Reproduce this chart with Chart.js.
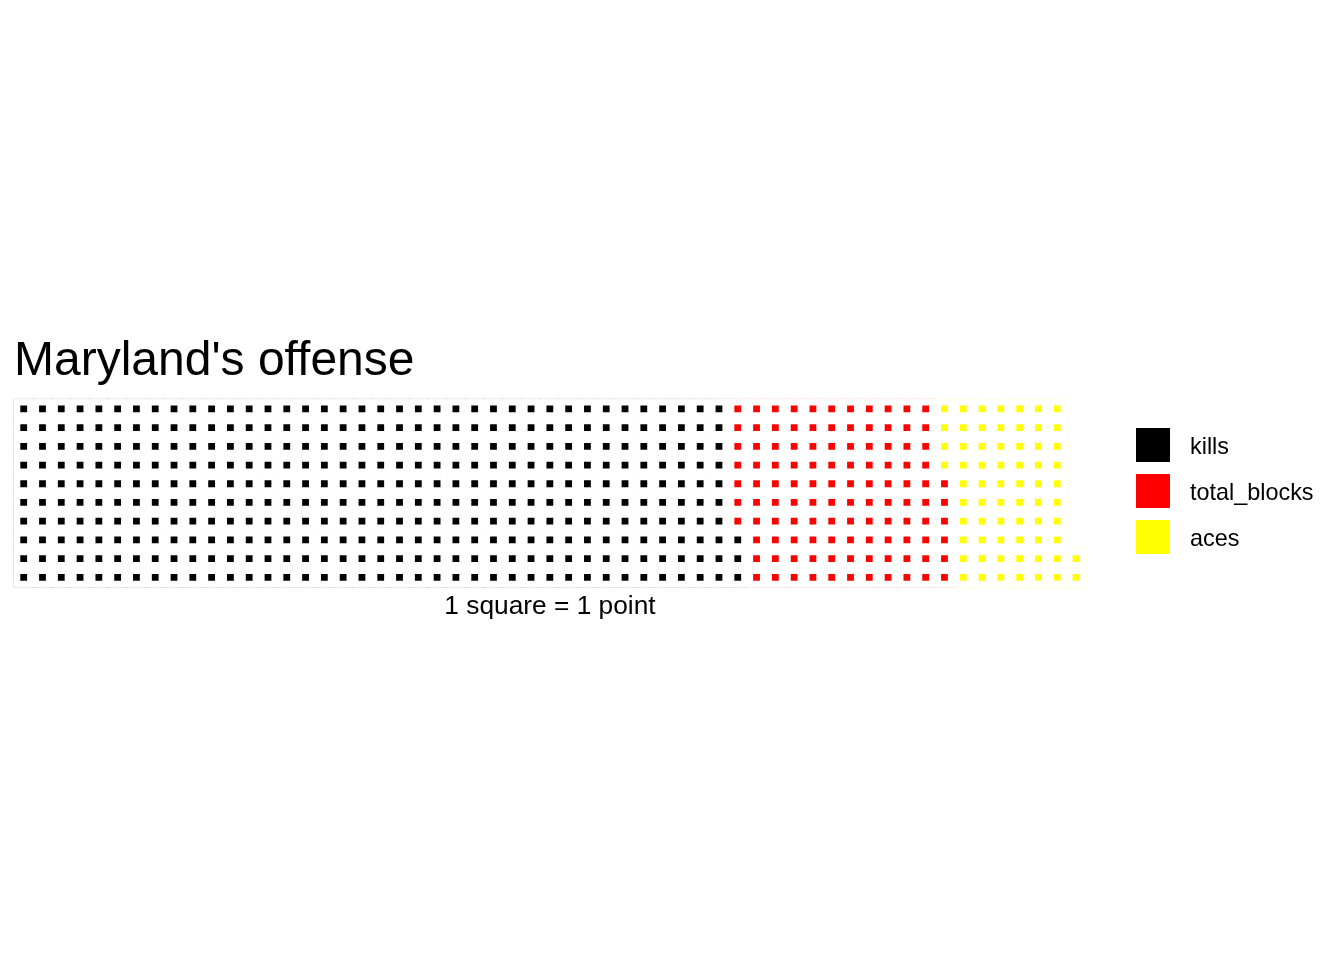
<!DOCTYPE html>
<html>
<head>
<meta charset="utf-8">
<script src="https://cdn.jsdelivr.net/npm/chart.js@4/dist/chart.umd.min.js"></script>
<style>
  html, body { margin: 0; padding: 0; background: #ffffff; }
  body { width: 1344px; height: 960px; position: relative; overflow: hidden;
         font-family: "Liberation Sans", Arial, Helvetica, sans-serif; color: #000; }
  #wrap { position: absolute; left: 0; top: 0; width: 1344px; height: 960px; }
  .txt { position: absolute; line-height: 1; white-space: nowrap; }
  #title { left: 14px; top: 335px; font-size: 48px; }
  #caption { left: 0; width: 1100px; text-align: center; top: 592px; font-size: 26.3px; }
  .key { position: absolute; left: 1136px; width: 34px; height: 34px; }
  .lab { position: absolute; left: 1190px; font-size: 23.4px; line-height: 1; white-space: nowrap; }
</style>
</head>
<body>
<div id="wrap"><canvas id="c" width="1344" height="960"></canvas></div>
<div id="title" class="txt">Maryland's offense</div>
<div id="caption" class="txt">1 square = 1 point</div>
<div id="legend"></div>
<script>
// ---- data ----
const categories = ["kills", "total_blocks", "aces"];
const values = [383, 113, 66];
const colors = ["#000000", "#FF0000", "#FFFF00"];
const edgeColors = ["rgba(0,0,0,0.13)", "rgba(255,0,0,0.13)", "rgba(255,255,0,0.18)"];
const nRows = 10;
const captionText = "1 square = 1 point";

// ---- build waffle cells (column-wise, bottom to top) ----
const datasets = [];
let k = 0;
categories.forEach((cat, i) => {
  const pts = [];
  for (let j = 0; j < values[i]; j++, k++) {
    pts.push({ x: Math.floor(k / nRows) + 1, y: (k % nRows) + 1 });
  }
  datasets.push({
    label: cat,
    data: pts,
    backgroundColor: colors[i],
    borderWidth: 0,
    pointStyle: "rect",
    pointRadius: 4.8,
    pointHoverRadius: 4.8
  });
});
const nCols = Math.ceil(k / nRows);

// ---- legend (HTML) ----
const legend = document.getElementById("legend");
categories.forEach((cat, i) => {
  const sq = document.createElement("div");
  sq.className = "key";
  sq.style.top = (428 + i * 46) + "px";
  sq.style.background = colors[i];
  legend.appendChild(sq);
  const lb = document.createElement("div");
  lb.className = "lab";
  lb.style.top = (435 + i * 46) + "px";
  lb.textContent = cat;
  legend.appendChild(lb);
});

// faint tile outline like the ggplot tile edges
const tileEdges = {
  id: "tileEdges",
  beforeDatasetsDraw(chart) {
    const ctx = chart.ctx, xs = chart.scales.x, ys = chart.scales.y;
    const w = Math.abs(xs.getPixelForValue(1) - xs.getPixelForValue(0));
    const h = Math.abs(ys.getPixelForValue(1) - ys.getPixelForValue(0));
    ctx.save();
    chart.data.datasets.forEach((ds, i) => {
      ctx.fillStyle = edgeColors[i];
      ds.data.forEach(p => {
        const cx = xs.getPixelForValue(p.x), cy = ys.getPixelForValue(p.y);
        ctx.fillRect(cx - w / 2 - 1, cy - h / 2 - 1, w + 2, h + 2);
      });
    });
    ctx.fillStyle = "#ffffff";
    chart.data.datasets.forEach(ds => {
      ds.data.forEach(p => {
        const cx = xs.getPixelForValue(p.x), cy = ys.getPixelForValue(p.y);
        ctx.fillRect(cx - w / 2 - 0.3, cy - h / 2 - 0.3, w + 0.6, h + 0.6);
      });
    });
    ctx.restore();
  }
};

new Chart(document.getElementById("c"), {
  type: "scatter",
  data: { datasets },
  options: {
    responsive: false,
    animation: false,
    events: [],
    layout: { padding: { left: 14.3, right: 1344 - 1085.4, top: 399.5, bottom: 960 - 586.7 } },
    scales: {
      x: { type: "linear", min: 0.5, max: nCols + 0.5, display: false },
      y: { type: "linear", min: 0.5, max: nRows + 0.5, display: false }
    },
    plugins: { legend: { display: false }, tooltip: { enabled: false }, title: { display: false } }
  },
  plugins: [tileEdges]
});
document.getElementById("caption").textContent = captionText;
</script>
</body>
</html>
